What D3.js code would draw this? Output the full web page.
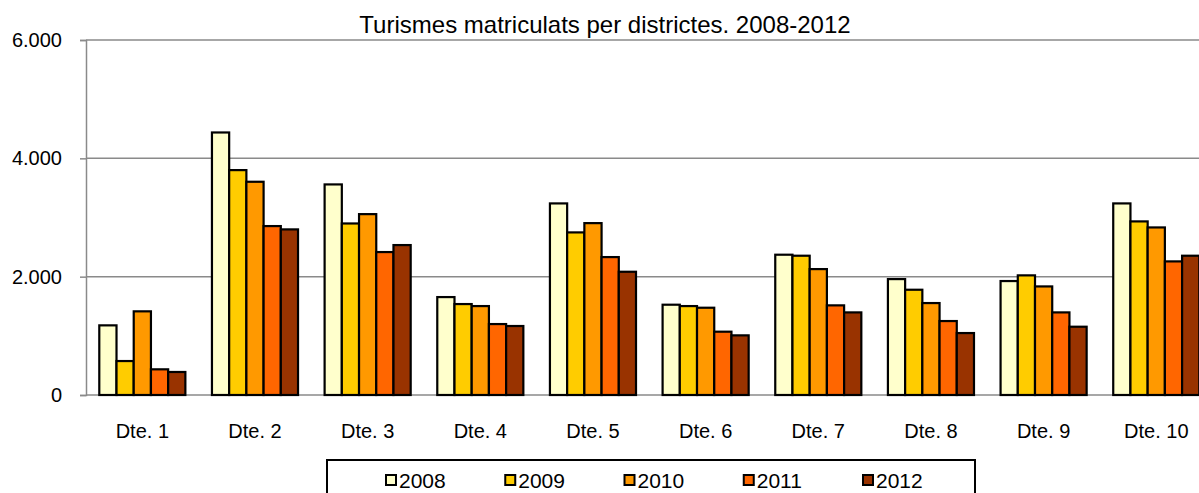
<!DOCTYPE html>
<html>
<head>
<meta charset="utf-8">
<script src="https://cdn.jsdelivr.net/npm/d3@7"></script>
<style>
    body { margin: 0; background: #fff; }
    svg { display: block; font-family: "Liberation Sans", Arial, sans-serif; }
</style>
</head>
<body>
<div id="chart"></div>
<script>
const districts = ["Dte. 1", "Dte. 2", "Dte. 3", "Dte. 4", "Dte. 5", "Dte. 6", "Dte. 7", "Dte. 8", "Dte. 9", "Dte. 10"];
const years = ["2008", "2009", "2010", "2011", "2012"];
const colors = ["#FFFFCC", "#FFCC00", "#FF9900", "#FF6600", "#993300"];

const v2008 = [1177, 4437, 3559, 1655, 3238, 1526, 2371, 1959, 1926, 3238];
const v2009 = [574, 3801, 2899, 1537, 2748, 1503, 2354, 1779, 2022, 2934];
const v2010 = [1414, 3604, 3057, 1503, 2905, 1475, 2128, 1554, 1835, 2832];
const v2011 = [434, 2855, 2416, 1199, 2331, 1070, 1515, 1250, 1396, 2258];
const v2012 = [389, 2799, 2534, 1166, 2083, 1008, 1396, 1047, 1154, 2354];
const yTicks = [0, 2000, 4000, 6000];

const series = [v2008, v2009, v2010, v2011, v2012];

const width = 1199;
const height = 493;
const plotLeft = 86;
const plotTop = 40;
const plotBottom = 395;

const svg = d3.select("#chart")
    .append("svg")
    .attr("width", width)
    .attr("height", height);

const loc = d3.formatLocale({decimal: ",", thousands: ".", grouping: [3], currency: ["", ""]});
const fmt = loc.format(",d");

// plot runs past the right edge, like the original (last group is clipped)
const x0 = d3.scaleBand()
    .domain(districts)
    .range([plotLeft, plotLeft + 1126.6])
    .paddingInner(0.236)
    .paddingOuter(0.118);

const x1 = d3.scaleBand()
    .domain(years)
    .range([0, x0.bandwidth()]);

const y = d3.scaleLinear()
    .domain([0, 6000])
    .range([plotBottom, plotTop]);

// gridlines
svg.append("g")
    .selectAll("line")
    .data(yTicks)
    .join("line")
    .attr("x1", plotLeft)
    .attr("x2", width)
    .attr("y1", d => y(d))
    .attr("y2", d => y(d))
    .attr("stroke", "#8a8a8a")
    .attr("stroke-width", 1.5);

// y axis
const yAxis = svg.append("g")
    .attr("transform", "translate(" + plotLeft + ",0)")
    .call(d3.axisLeft(y).tickValues(yTicks).tickFormat(fmt).tickSize(6).tickPadding(18));
yAxis.select(".domain").attr("stroke", "#8a8a8a").attr("stroke-width", 1.5);
yAxis.selectAll(".tick line").attr("stroke", "#8a8a8a").attr("stroke-width", 1.5);
yAxis.selectAll(".tick text")
    .attr("font-size", 20)
    .attr("fill", "#000")
    .attr("font-family", "Liberation Sans, Arial, sans-serif");

// bars
const groups = svg.append("g")
    .selectAll("g")
    .data(districts)
    .join("g")
    .attr("transform", d => "translate(" + x0(d) + ",0)");

groups.selectAll("rect")
    .data((d, i) => years.map((yr, j) => ({year: yr, value: series[j][i], color: colors[j]})))
    .join("rect")
    .attr("x", d => x1(d.year))
    .attr("y", d => y(d.value))
    .attr("width", x1.bandwidth())
    .attr("height", d => y(0) - y(d.value))
    .attr("fill", d => d.color)
    .attr("stroke", "#000")
    .attr("stroke-width", 2.2);

// x labels
svg.append("g")
    .selectAll("text")
    .data(districts)
    .join("text")
    .attr("x", d => x0(d) + x0.bandwidth() / 2)
    .attr("y", 438)
    .attr("text-anchor", "middle")
    .attr("font-size", 20)
    .text(d => d);

// title
svg.append("text")
    .attr("x", 605)
    .attr("y", 33)
    .attr("text-anchor", "middle")
    .attr("font-size", 24)
    .text("Turismes matriculats per districtes. 2008-2012");

// legend
svg.append("rect")
    .attr("x", 327)
    .attr("y", 460)
    .attr("width", 648)
    .attr("height", 60)
    .attr("fill", "#fff")
    .attr("stroke", "#000")
    .attr("stroke-width", 2);

const legendX = d3.scalePoint()
    .domain(years)
    .range([385, 862]);

const items = svg.append("g")
    .selectAll("g")
    .data(years)
    .join("g")
    .attr("transform", d => "translate(" + legendX(d) + ",0)");

items.append("rect")
    .attr("x", 1)
    .attr("y", 475)
    .attr("width", 10)
    .attr("height", 10)
    .attr("fill", (d, i) => colors[i])
    .attr("stroke", "#000")
    .attr("stroke-width", 2);

items.append("text")
    .attr("x", 14)
    .attr("y", 488)
    .attr("font-size", 21)
    .text(d => d);
</script>
</body>
</html>
